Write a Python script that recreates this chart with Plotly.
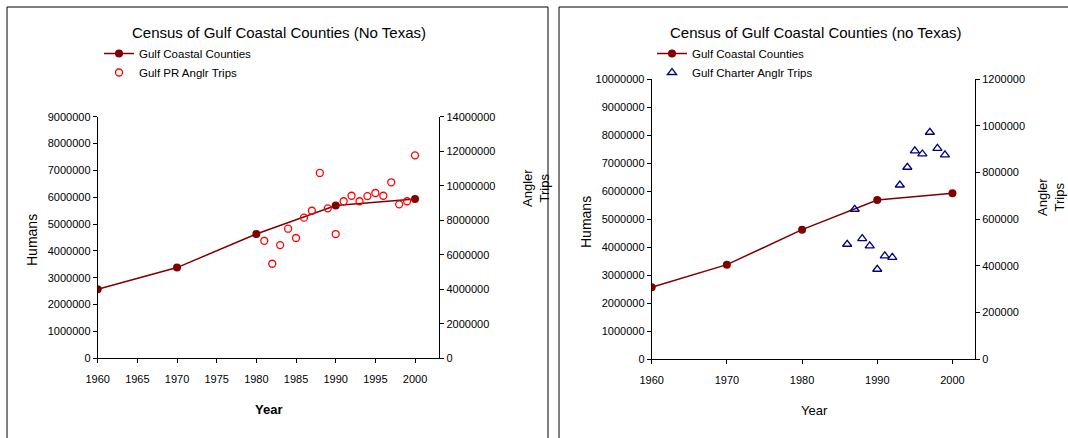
import plotly.graph_objects as go

# ---- data ----
census_years = [1960, 1970, 1980, 1990, 2000]
census_pop = [2570000, 3380000, 4630000, 5690000, 5930000]

pr_years = list(range(1981, 2001))
pr_trips = [6810000, 5480000, 6560000, 7510000, 6970000, 8150000, 8550000, 10740000,
            8690000, 7200000, 9100000, 9420000, 9100000, 9400000, 9580000, 9420000,
            10200000, 8920000, 9100000, 11760000]

charter_years = list(range(1986, 2000))
charter_trips = [493000, 643000, 517000, 486000, 386000, 443000, 437000, 747000,
                 823000, 893000, 880000, 973000, 904000, 876000]

title_left = "Census of Gulf Coastal Counties (No Texas)"
title_right = "Census of Gulf Coastal Counties (no Texas)"

W, H = 1068, 438
FONT = "Liberation Sans, Arial, sans-serif"
DARKRED = "#800000"


def px(x):
    return x / W


def py(y):
    return 1 - y / H


fig = go.Figure()

# left chart
fig.add_trace(go.Scatter(x=census_years, y=census_pop, mode="lines+markers",
                         name="Gulf Coastal Counties", xaxis="x", yaxis="y",
                         line=dict(color=DARKRED, width=1.5),
                         marker=dict(color=DARKRED, size=8, symbol="circle"),
                         legend="legend"))
fig.add_trace(go.Scatter(x=pr_years, y=pr_trips, mode="markers",
                         name="Gulf PR Anglr Trips", xaxis="x", yaxis="y2",
                         marker=dict(color="#FF0000", size=7, symbol="circle-open",
                                     line=dict(width=1.3)),
                         legend="legend"))

# right chart
fig.add_trace(go.Scatter(x=census_years, y=census_pop, mode="lines+markers",
                         name="Gulf Coastal Counties", xaxis="x2", yaxis="y3",
                         line=dict(color=DARKRED, width=1.5),
                         marker=dict(color=DARKRED, size=8, symbol="circle"),
                         legend="legend2"))
fig.add_trace(go.Scatter(x=charter_years, y=charter_trips, mode="markers",
                         name="Gulf Charter Anglr Trips", xaxis="x2", yaxis="y4",
                         marker=dict(color="#000080", size=8, symbol="triangle-up-open",
                                     line=dict(width=1.3)),
                         legend="legend2"))

tickfont = dict(family=FONT, size=11, color="black")
axis_common = dict(showgrid=False, zeroline=False, showline=True, linecolor="black",
                   linewidth=1, ticks="outside", ticklen=4, tickcolor="black",
                   tickfont=tickfont, tickformat="d", automargin=False)

fig.update_layout(
    template="none",
    width=W, height=H, autosize=False,
    margin=dict(l=0, r=0, t=0, b=0, pad=0),
    paper_bgcolor="white", plot_bgcolor="white",
    font=dict(family=FONT, color="black"),
    xaxis=dict(domain=[px(97.7), px(439.3)], range=[1960, 2003.06], dtick=5, tick0=1960,
               anchor="y", ticklabelstandoff=6, **axis_common),
    yaxis=dict(domain=[py(358.3), py(116.7)], range=[0, 9e6], dtick=1e6, anchor="x",
               **axis_common),
    yaxis2=dict(domain=[py(358.3), py(116.7)], range=[0, 14e6], dtick=2e6, anchor="x",
                overlaying="y", side="right", **axis_common),
    xaxis2=dict(domain=[px(651.7), px(975)], range=[1960, 2003.0], dtick=10, tick0=1960,
                anchor="y3", ticklabelstandoff=6, **axis_common),
    yaxis3=dict(domain=[py(359.3), py(79.3)], range=[0, 10e6], dtick=1e6, anchor="x2",
                **axis_common),
    yaxis4=dict(domain=[py(359.3), py(79.3)], range=[0, 1.2e6], dtick=2e5, anchor="x2",
                overlaying="y3", side="right", **axis_common),
    legend=dict(x=px(99), y=py(39), xanchor="left", yanchor="top",
                bgcolor="rgba(0,0,0,0)", font=dict(family=FONT, size=11.5),
                tracegroupgap=0, itemwidth=30, borderwidth=0),
    legend2=dict(x=px(652), y=py(39), xanchor="left", yanchor="top",
                 bgcolor="rgba(0,0,0,0)", font=dict(family=FONT, size=11.5),
                 tracegroupgap=0, itemwidth=30, borderwidth=0),
    showlegend=True,
)

ann = [
    dict(text=title_left, x=px(279), y=py(32), font=dict(size=15)),
    dict(text=title_right, x=px(816), y=py(32), font=dict(size=15)),
    dict(text="Humans", x=px(32), y=py(240), textangle=-90, font=dict(size=14)),
    dict(text="Humans", x=px(586), y=py(222), textangle=-90, font=dict(size=14)),
    dict(text="Angler<br>Trips", x=px(536), y=py(188), textangle=-90, font=dict(size=13)),
    dict(text="Angler<br>Trips", x=px(1051), y=py(197), textangle=-90, font=dict(size=13)),
    dict(text="<b>Year</b>", x=px(268), y=py(409), font=dict(size=13)),
    dict(text="Year", x=px(814), y=py(410), font=dict(size=13)),
]
for a in ann:
    a.update(xref="paper", yref="paper", showarrow=False, xanchor="center", yanchor="middle")
    a["font"].update(family=FONT, color="black")
fig.update_layout(annotations=ann)

fig.update_layout(shapes=[
    dict(type="rect", xref="paper", yref="paper", x0=px(7), x1=px(548), y0=py(445), y1=py(7),
         line=dict(color="black", width=1)),
    dict(type="rect", xref="paper", yref="paper", x0=px(559), x1=px(1075), y0=py(445), y1=py(7),
         line=dict(color="black", width=1)),
])

fig.write_html("out.html",
               config={"displayModeBar": False},
               post_script="document.body.style.margin='0px';"
                           "document.body.style.overflow='hidden';")
